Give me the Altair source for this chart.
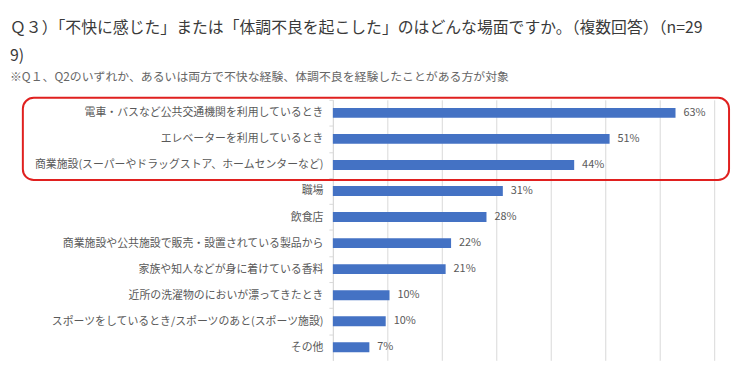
import altair as alt
import pandas as pd

categories = [
    "電車・バスなど公共交通機関を利用しているとき",
    "エレベーターを利用しているとき",
    "商業施設(スーパーやドラッグストア、ホームセンターなど)",
    "職場",
    "飲食店",
    "商業施設や公共施設で販売・設置されている製品から",
    "家族や知人などが身に着けている香料",
    "近所の洗濯物のにおいが漂ってきたとき",
    "スポーツをしているとき/スポーツのあと(スポーツ施設)",
    "その他",
]
values = [62.9, 50.8, 44.3, 31.2, 28.2, 21.7, 20.7, 10.4, 9.7, 6.7]
labels = ["63%", "51%", "44%", "31%", "28%", "22%", "21%", "10%", "10%", "7%"]

title_lines = [
    "Ｑ３）「不快に感じた」または「体調不良を起こした」のはどんな場面ですか。（複数回答）（n=29",
    "9)",
]
subtitle = "※Q１、Q2のいずれか、あるいは両方で不快な経験、体調不良を経験したことがある方が対象"

df = pd.DataFrame({"cat": categories, "val": values, "lab": labels})

FONT = "Noto Sans CJK JP"
W, H = 385, 263
band = H / len(categories)

y_enc = alt.Y(
    "cat:N",
    sort=categories,
    scale=alt.Scale(paddingInner=0.62, paddingOuter=0.31),
    axis=alt.Axis(
        title=None,
        labelFont=FONT,
        labelFontSize=11,
        labelColor="#595959",
        labelPadding=6,
        labelLimit=400,
        domainColor="#d9d9d9",
        tickColor="#d9d9d9",
        tickSize=4,
        tickOffset=-band / 2,
        labelOffset=band / 2,
        grid=False,
    ),
)
x_enc = alt.X(
    "val:Q",
    scale=alt.Scale(domain=[0, 70]),
    axis=alt.Axis(
        title=None,
        labels=False,
        ticks=False,
        domain=False,
        values=[0, 10, 20, 30, 40, 50, 60, 70],
        grid=True,
        gridColor="#d9d9d9",
        gridWidth=1,
    ),
)

bars = alt.Chart(df).mark_bar(color="#4472C4").encode(x=x_enc, y=y_enc)
text = alt.Chart(df).mark_text(
    align="left", baseline="middle", dx=8, font=FONT, fontSize=11, color="#595959"
).encode(x="val:Q", y=alt.Y("cat:N", sort=categories), text="lab:N")

frame = alt.Chart(df.head(1)).mark_rect(
    fill=None, filled=False, stroke="#e0201f", strokeWidth=2, cornerRadius=11
).encode(
    x=alt.value(-313), x2=alt.value(400), y=alt.value(-2), y2=alt.value(81)
)

chart = (
    alt.layer(bars, text, frame)
    .properties(
        width=W,
        height=H,
        autosize=alt.AutoSizeParams(type="none"),
        padding={"left": 328, "top": 91, "right": 20, "bottom": 0},
        title=alt.TitleParams(
            text=title_lines,
            subtitle=subtitle,
            anchor="start",
            frame="group",
            dx=-326,
            font=FONT,
            fontSize=16,
            fontWeight="normal",
            color="#3a3a3a",
            lineHeight=28,
            subtitleFont=FONT,
            subtitleFontSize=12,
            subtitleColor="#666666",
            subtitlePadding=8,
            offset=14,
        ),
    )
    .configure_view(stroke=None)
)

chart.save("out.html", embed_options={"renderer": "svg", "actions": False})
